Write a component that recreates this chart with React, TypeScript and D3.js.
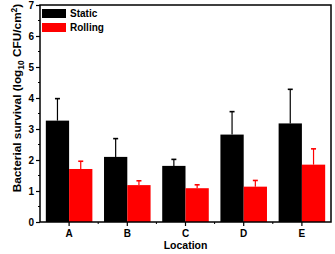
import { useEffect, useRef } from 'react';
import * as d3 from 'd3';

const locations = ['A', 'B', 'C', 'D', 'E'];
const staticMean = [3.27, 2.1, 1.81, 2.82, 3.18];
const staticErr = [0.71, 0.59, 0.21, 0.74, 1.1];
const rollingMean = [1.71, 1.19, 1.09, 1.14, 1.85];
const rollingErr = [0.25, 0.14, 0.11, 0.2, 0.51];
const seriesNames = ['Static', 'Rolling'];
const yTicks = [0, 1, 2, 3, 4, 5, 6, 7];

const W = 335, H = 254, ML = 40, MR = 4, MT = 5, MB = 32;
const COLORS = ['#000000', '#ff0000'];
const FONT = '"Liberation Sans", Arial, sans-serif';

export default function App() {
  const svgRef = useRef<SVGSVGElement>(null);

  useEffect(() => {
    const svg = d3.select(svgRef.current);
    svg.selectAll('*').remove();

    const x = d3.scaleBand<string>()
      .domain(locations)
      .range([ML, W - MR])
      .paddingInner(0.2)
      .paddingOuter(0.1);
    const x1 = d3.scaleBand<string>()
      .domain(seriesNames)
      .range([0, x.bandwidth()]);
    const y = d3.scaleLinear().domain([0, 7]).range([H - MB, MT]);

    const rows = locations.map((loc, i) => ({
      loc,
      vals: [
        { s: 'Static', v: staticMean[i], e: staticErr[i], c: COLORS[0] },
        { s: 'Rolling', v: rollingMean[i], e: rollingErr[i], c: COLORS[1] },
      ],
    }));

    // bars + error bars
    const grp = svg.selectAll('.grp')
      .data(rows)
      .join('g')
      .attr('transform', (d) => `translate(${x(d.loc)},0)`);

    grp.selectAll('rect')
      .data((d) => d.vals)
      .join('rect')
      .attr('x', (d) => x1(d.s)!)
      .attr('width', x1.bandwidth())
      .attr('y', (d) => y(d.v))
      .attr('height', (d) => y(0) - y(d.v))
      .attr('fill', (d) => d.c);

    const eb = grp.selectAll('.eb')
      .data((d) => d.vals)
      .join('g')
      .attr('class', 'eb')
      .attr('stroke', (d) => d.c)
      .attr('stroke-width', 1.2);
    eb.append('line')
      .attr('x1', (d) => x1(d.s)! + x1.bandwidth() / 2)
      .attr('x2', (d) => x1(d.s)! + x1.bandwidth() / 2)
      .attr('y1', (d) => y(d.v))
      .attr('y2', (d) => y(d.v + d.e));
    eb.append('line')
      .attr('x1', (d) => x1(d.s)! + x1.bandwidth() / 2 - 2.5)
      .attr('x2', (d) => x1(d.s)! + x1.bandwidth() / 2 + 2.5)
      .attr('y1', (d) => y(d.v + d.e))
      .attr('y2', (d) => y(d.v + d.e))
      .attr('stroke-width', 1.6);

    // frame
    svg.append('rect')
      .attr('x', ML)
      .attr('y', MT)
      .attr('width', W - MR - ML)
      .attr('height', H - MB - MT)
      .attr('fill', 'none')
      .attr('stroke', '#000')
      .attr('stroke-width', 1.5);

    // y axis
    const ya = svg.append('g')
      .attr('transform', `translate(${ML},0)`)
      .call(d3.axisLeft(y).tickValues(yTicks).tickSize(4).tickPadding(2).tickFormat(d3.format('d')))
      .call((g) => {
        g.select('.domain').remove();
        g.selectAll('line').attr('stroke-width', 1.2);
        g.selectAll('text')
          .attr('font-size', 10)
          .attr('font-weight', 'bold')
          .attr('font-family', FONT)
          .attr('fill', '#000');
      });
    ya.selectAll('.minor')
      .data(d3.range(0.5, 7, 1))
      .join('line')
      .attr('x1', -2)
      .attr('x2', 0)
      .attr('y1', (d) => y(d))
      .attr('y2', (d) => y(d))
      .attr('stroke', '#000');

    // x axis
    const xa = svg.append('g')
      .attr('transform', `translate(0,${H - MB})`)
      .call(d3.axisBottom(x).tickSize(4).tickPadding(4))
      .call((g) => {
        g.select('.domain').remove();
        g.selectAll('line').attr('stroke-width', 1.2);
        g.selectAll('text')
          .attr('font-size', 10)
          .attr('font-weight', 'bold')
          .attr('font-family', FONT)
          .attr('fill', '#000');
      });
    xa.selectAll('.minor')
      .data(locations.slice(1))
      .join('line')
      .attr('x1', (d) => x(d)! - x.step() * 0.1)
      .attr('x2', (d) => x(d)! - x.step() * 0.1)
      .attr('y1', 0)
      .attr('y2', 2)
      .attr('stroke', '#000');

    // axis titles
    svg.append('text')
      .attr('x', (ML + W - MR) / 2)
      .attr('y', H - 5)
      .attr('text-anchor', 'middle')
      .attr('font-size', 10.5)
      .attr('font-weight', 'bold')
      .attr('font-family', FONT)
      .text('Location');

    const yt = svg.append('text')
      .attr('transform', `translate(21,98) rotate(-90)`)
      .attr('text-anchor', 'middle')
      .attr('font-size', 11.8)
      .attr('font-weight', 'bold')
      .attr('font-family', FONT);
    yt.append('tspan').text('Bacterial survival (log');
    yt.append('tspan').attr('font-size', 8.5).attr('dy', 3).text('10');
    yt.append('tspan').attr('dy', -3).text(' CFU/cm');
    yt.append('tspan').attr('font-size', 8.5).attr('dy', -4.5).text('2');
    yt.append('tspan').attr('dy', 4.5).text(')');

    // legend
    const lg = svg.selectAll('.lg')
      .data(seriesNames)
      .join('g')
      .attr('transform', (_, i) => `translate(${ML + 2},${MT + 4 + i * 14})`);
    lg.append('rect')
      .attr('width', 24)
      .attr('height', 9)
      .attr('fill', (_, i) => COLORS[i]);
    lg.append('text')
      .attr('x', 28)
      .attr('y', 8)
      .attr('font-size', 10)
      .attr('font-weight', 'bold')
      .attr('font-family', FONT)
      .text((d) => d);
  }, []);

  return (
    <svg
      ref={svgRef}
      width={W}
      height={H}
      style={{ position: 'absolute', left: 0, top: 0, background: '#fff' }}
    />
  );
}
